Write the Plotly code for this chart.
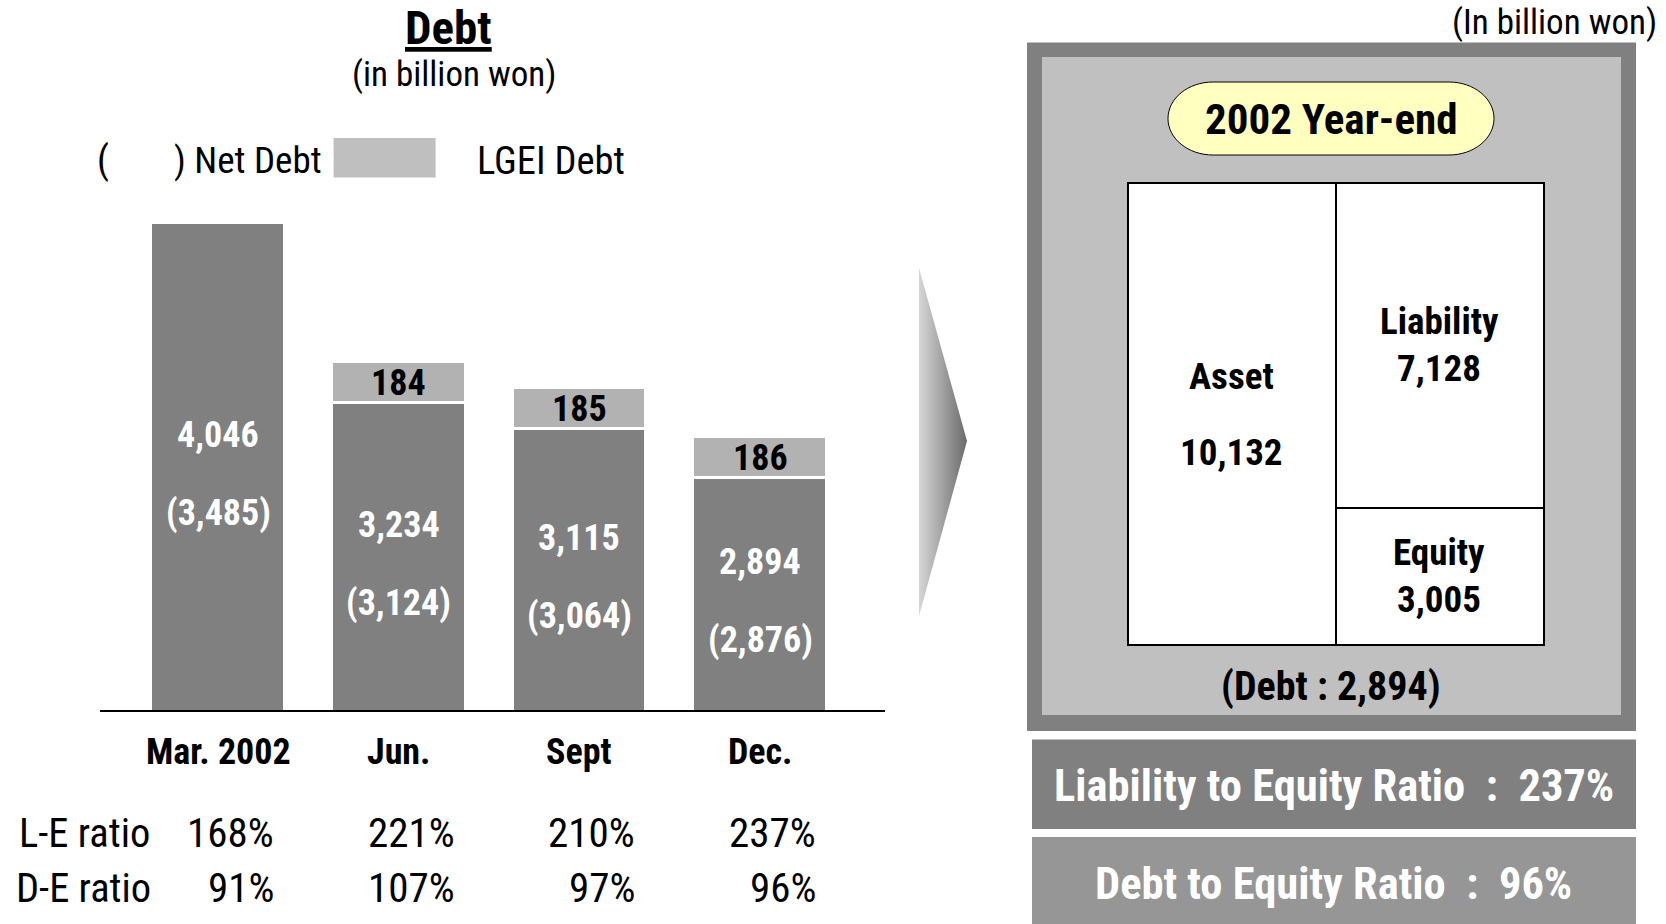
import plotly.graph_objects as go

W, H = 1666, 924
FONT = "Roboto Condensed, Liberation Sans Narrow, Arial Narrow, sans-serif"

# ---------------- data ----------------
categories = ["Mar. 2002", "Jun.", "Sept", "Dec."]
debt = [4046, 3234, 3115, 2894]
net_debt = [3485, 3124, 3064, 2876]
lgei_debt = [None, 184, 185, 186]
le_ratio = [168, 221, 210, 237]
de_ratio = [91, 107, 97, 96]

ye_label = "2002 Year-end"
bs_items = ["Asset", "Liability", "Equity"]
asset = 10132
liability = 7128
equity = 3005
ye_debt = 2894
ye_le_ratio = 237
ye_de_ratio = 96

# ---------------- layout helpers ----------------
def px(x):
    return x / W

def py(y):
    return 1 - y / H

DARK = "#808080"
LIGHT = "#b2b2b2"

# left chart scale (truncated axis, as in the original slide)
Y_MIN, Y_MAX = 1848, 4241
X_RANGE = [-0.655, 3.692]

# right balance-sheet box scale
bs_top = max(asset, liability + equity)
pad_y = 40
k2 = (645 - 183) / bs_top
y2_dom = [py(645 + pad_y * k2), py(183 - pad_y * k2)]
pad_x = 0.012
kx2 = (1543 - 1127) / 2.0
x2_dom = [px(1127 - pad_x * kx2), px(1543 + pad_x * kx2)]

fig = go.Figure()

# left stacked bars
fig.add_trace(go.Bar(
    x=list(range(len(categories))), y=debt, width=0.74,
    marker=dict(color=DARK, line=dict(color="white", width=3)),
    xaxis="x", yaxis="y", hoverinfo="skip", showlegend=False))
fig.add_trace(go.Bar(
    x=list(range(len(categories))), y=lgei_debt, width=0.74,
    marker=dict(color=LIGHT, line=dict(color="white", width=3)),
    xaxis="x", yaxis="y", hoverinfo="skip", showlegend=False))

# balance sheet boxes
for xv, yv in [(0, asset), (1, equity), (1, liability)]:
    fig.add_trace(go.Bar(
        x=[xv], y=[yv], width=1,
        marker=dict(color="white", line=dict(color="black", width=2)),
        xaxis="x2", yaxis="y2", hoverinfo="skip", showlegend=False))

# decorative gradient arrow (pixel overlay axes)
fig.add_trace(go.Scatter(
    x=[919, 967, 919, 919], y=[268, 441, 616, 268],
    mode="lines", fill="toself", line=dict(width=0, color="rgba(0,0,0,0)"),
    fillgradient=dict(type="horizontal",
                      colorscale=[[0, "#d6d6d6"], [1, "#6a6a6a"]]),
    xaxis="x3", yaxis="y3", hoverinfo="skip", showlegend=False))

shapes = []

def rect(x0, y0, x1, y1, color, line=None):
    shapes.append(dict(type="rect", xref="paper", yref="paper",
                       x0=px(x0), x1=px(x1), y0=py(y1), y1=py(y0),
                       fillcolor=color, line=line or dict(width=0),
                       layer="below"))

rect(1027, 42.5, 1636, 731, "#808080")
rect(1042, 57, 1621, 715, "#c0c0c0")
rect(1032, 739.5, 1636, 829, "#808080")
rect(1032, 837, 1636, 926, "#969696")
rect(333.6, 138, 435.6, 177.5, "#bfbfbf")

# pill
x0, x1, y0, y1 = 1168, 1494, 82, 155
rx, ry = 45, (y1 - y0) / 2
ym = (y0 + y1) / 2
c = 0.5523
def P(x, y):
    return f"{px(x):.6f},{py(y):.6f}"
path = (f"M{P(x0+rx, y0)} L{P(x1-rx, y0)} "
        f"C{P(x1-rx+c*rx, y0)} {P(x1, ym-c*ry)} {P(x1, ym)} "
        f"C{P(x1, ym+c*ry)} {P(x1-rx+c*rx, y1)} {P(x1-rx, y1)} "
        f"L{P(x0+rx, y1)} "
        f"C{P(x0+rx-c*rx, y1)} {P(x0, ym+c*ry)} {P(x0, ym)} "
        f"C{P(x0, ym-c*ry)} {P(x0+rx-c*rx, y0)} {P(x0+rx, y0)} Z")
shapes.append(dict(type="path", xref="paper", yref="paper", path=path,
                   fillcolor="#ffffc0", line=dict(color="black", width=1),
                   layer="below"))

ann = []

def txt(x, y, s, size, color="black", xanchor="center", xref="x3", yref="y3",
        **kw):
    d = dict(x=x, y=y, text=s, xref=xref, yref=yref, showarrow=False,
             xanchor=xanchor, yanchor="middle",
             font=dict(family=FONT, size=size, color=color))
    d.update(kw)
    ann.append(d)

B = 36  # bold label size

# titles and legend
ann.append(dict(x=448, y=27, text="<b>Debt</b>", xref="x3", yref="y3",
                showarrow=False, xanchor="center", yanchor="middle",
                font=dict(family=FONT, size=47, color="black",
                          lineposition="under")))
txt(454, 74, "(in billion won)", 35)
txt(103, 160, "(", 38)
txt(172, 160, ") Net Debt", 37, xanchor="left")
txt(475, 160, "LGEI Debt", 38.5, xanchor="left")

# bar labels
for i, cat in enumerate(categories):
    mid = (Y_MIN + debt[i]) / 2
    txt(i, mid, f"<b>{debt[i]:,}</b>", B, color="white", xref="x", yref="y",
        yshift=32)
    txt(i, mid, f"<b>({net_debt[i]:,})</b>", B, color="white", xref="x",
        yref="y", yshift=-46)
    if lgei_debt[i] is not None:
        txt(i, debt[i] + lgei_debt[i] / 2, f"<b>{lgei_debt[i]}</b>", B,
            xref="x", yref="y")
    txt(i, 752, f"<b>{cat}</b>", B, xref="x", yref="y3")
    txt(i, 833, f"{le_ratio[i]}%", 41, xref="x", yref="y3", xanchor="right",
        xshift=58)
    txt(i, 888, f"{de_ratio[i]}%", 41, xref="x", yref="y3", xanchor="right",
        xshift=58)

txt(17, 833, "L-E ratio", 40.5, xanchor="left")
txt(14, 888, "D-E ratio", 40.5, xanchor="left")

# right panel
txt(1659, 22, "(In billion won)", 35, xanchor="right")
txt(1331, 119, f"<b>{ye_label}</b>", 43)
txt(0, asset / 2, f"<b>{bs_items[0]}</b>", 37, xref="x2", yref="y2", yshift=38)
txt(0, asset / 2, f"<b>{asset:,}</b>", 37, xref="x2", yref="y2", yshift=-38)
txt(1, equity + liability / 2, f"<b>{bs_items[1]}</b>", 37, xref="x2",
    yref="y2", yshift=23.5)
txt(1, equity + liability / 2, f"<b>{liability:,}</b>", 37, xref="x2",
    yref="y2", yshift=-23.5)
txt(1, equity / 2, f"<b>{bs_items[2]}</b>", 37, xref="x2", yref="y2",
    yshift=23.5)
txt(1, equity / 2, f"<b>{equity:,}</b>", 37, xref="x2", yref="y2",
    yshift=-23.5)
txt(1331, 686, f"<b>(Debt : {ye_debt:,})</b>", 40)
sp = "\u00a0\u00a0"
txt(1334, 786, f"<b>Liability to Equity Ratio{sp}:{sp}{ye_le_ratio}%</b>", 44.5,
    color="white")
txt(1333, 884, f"<b>Debt to Equity Ratio{sp}:{sp}{ye_de_ratio}%</b>", 44.5,
    color="white")

fig.update_layout(
    width=W, height=H, margin=dict(l=0, r=0, t=0, b=0),
    paper_bgcolor="white", plot_bgcolor="rgba(0,0,0,0)",
    barmode="stack", bargap=0, showlegend=False,
    font=dict(family=FONT),
    xaxis=dict(domain=[px(100), px(885)], range=X_RANGE, showline=True,
               linecolor="black", linewidth=2, showticklabels=False,
               ticks="", showgrid=False, zeroline=False, anchor="y"),
    yaxis=dict(domain=[py(710), py(180)], range=[Y_MIN, Y_MAX], visible=False,
               anchor="x"),
    xaxis2=dict(domain=x2_dom, range=[-0.5 - pad_x, 1.5 + pad_x],
                visible=False, anchor="y2"),
    yaxis2=dict(domain=y2_dom, range=[-pad_y, bs_top + pad_y], visible=False,
                anchor="x2"),
    xaxis3=dict(domain=[0, 1], range=[0, W], visible=False, anchor="y3"),
    yaxis3=dict(domain=[0, 1], range=[H, 0], visible=False, anchor="x3"),
    shapes=shapes, annotations=ann,
)

fig.write_html("out.html", config={"displayModeBar": False},
               post_script="document.body.style.margin='0px';"
                           "document.body.style.overflow='hidden';")
